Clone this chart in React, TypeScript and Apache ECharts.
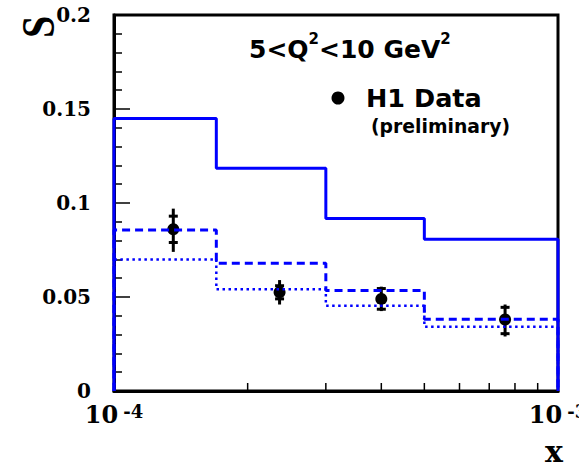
import React, { useEffect, useRef } from "react";
import * as echarts from "echarts";

// Histogram bin edges (x) and bin contents for the three curves
const binEdges = [1e-4, 1.7e-4, 3e-4, 5e-4, 1e-3];
const solidValues = [0.145, 0.1185, 0.0918, 0.0807];
const dashedValues = [0.0856, 0.0679, 0.0534, 0.0381];
const dottedValues = [0.07, 0.0541, 0.0454, 0.0342];

// H1 data points
const dataX = [1.36e-4, 2.36e-4, 4.0e-4, 7.6e-4];
const dataY = [0.086, 0.0525, 0.049, 0.038];
const statLow = [0.079, 0.049, 0.0435, 0.0305];
const statHigh = [0.093, 0.056, 0.0545, 0.0445];
const totLow = [0.074, 0.046, 0.0425, 0.029];
const totHigh = [0.097, 0.059, 0.0555, 0.046];

// axis decorations
const xMinorTicks = [2e-4, 3e-4, 4e-4, 5e-4, 6e-4, 7e-4, 8e-4, 9e-4];
const yMin = 0;
const yMax = 0.2;
const yInterval = 0.05;

const BLUE = "#0000ff";

function histogram(values: number[]): number[][] {
  const pts: number[][] = [[binEdges[0], 0]];
  values.forEach((v, i) => {
    pts.push([binEdges[i], v]);
    pts.push([binEdges[i + 1], v]);
  });
  pts.push([binEdges[binEdges.length - 1], 0]);
  return pts;
}

export default function App() {
  const ref = useRef<HTMLDivElement>(null);
  useEffect(() => {
    if (!ref.current) return;
    const chart = echarts.init(ref.current, null, { renderer: "svg", width: 579, height: 467 });
    const serifBold = { fontFamily: "DejaVu Serif", fontWeight: "bold" as const, color: "#000" };
    const sansBold = { fontFamily: "DejaVu Sans", fontWeight: "bold" as const, fill: "#000" };

    const option: any = {
      animation: false,
      backgroundColor: "#fff",
      grid: {
        left: 114,
        right: 21,
        top: 15,
        bottom: 76,
        show: true,
        borderColor: "#000",
        borderWidth: 3,
        containLabel: false,
        outerBoundsMode: "none",
      },
      xAxis: {
        type: "log",
        logBase: 10,
        min: binEdges[0],
        max: binEdges[binEdges.length - 1],
        axisLine: { show: true, lineStyle: { color: "#000", width: 3 } },
        axisTick: { show: false },
        splitLine: { show: false },
        axisLabel: {
          margin: 11,
          hideOverlap: false,
          formatter: (v: number) => `{b|10}{s|${Math.round(Math.log10(v))}}`,
          rich: {
            b: { ...serifBold, fontSize: 24, lineHeight: 24, verticalAlign: "bottom" },
            s: { ...serifBold, fontSize: 18, lineHeight: 18, verticalAlign: "top", padding: [0, 0, 0, 5] },
          },
          lineHeight: 34,
        },
      },
      yAxis: {
        type: "value",
        min: yMin,
        max: yMax,
        interval: yInterval,
        axisLine: { show: true, lineStyle: { color: "#000", width: 3 } },
        axisTick: { show: true, inside: true, length: 16, lineStyle: { color: "#000", width: 1.5 } },
        minorTick: { show: true, splitNumber: 5, length: 8, lineStyle: { color: "#000", width: 1.5 } },
        splitLine: { show: false },
        minorSplitLine: { show: false },
        axisLabel: { ...serifBold, fontSize: 20, margin: 23 },
      },
      graphic: [
        {
          type: "text",
          x: 39,
          y: 27,
          rotation: Math.PI / 2,
          scaleY: 1.15,
          style: {
            text: "S",
            fontFamily: "Liberation Serif",
            fontWeight: "bold",
            fontSize: 40,
            fill: "#000",
            align: "center",
            verticalAlign: "middle",
          },
        },
        {
          type: "text",
          x: 563,
          y: 466,
          style: {
            text: "x",
            fontFamily: "DejaVu Serif",
            fontWeight: "bold",
            fontSize: 30,
            fill: "#000",
            align: "right",
            verticalAlign: "bottom",
          },
        },
        {
          type: "text",
          x: 249,
          y: 31,
          style: {
            text: "{a|5<Q}{s|2}{a|<10 GeV}{s|2}",
            rich: {
              a: { ...sansBold, fontSize: 25, lineHeight: 31, verticalAlign: "bottom" },
              s: { ...sansBold, fontSize: 15, lineHeight: 15, verticalAlign: "top" },
            },
          },
        },
        { type: "circle", shape: { cx: 338, cy: 98, r: 6.5 }, style: { fill: "#000" } },
        {
          type: "text",
          x: 366,
          y: 98,
          style: { text: "H1 Data", ...sansBold, fontSize: 25.5, verticalAlign: "middle" },
        },
        {
          type: "text",
          x: 371,
          y: 126,
          style: { text: "(preliminary)", ...sansBold, fontSize: 18.8, verticalAlign: "middle" },
        },
      ],
      series: [
        {
          type: "custom",
          name: "xMinorTicks",
          data: xMinorTicks.map((v) => [v, 0]),
          silent: true,
          renderItem: (params: any, api: any) => {
            const p = api.coord([api.value(0), api.value(1)]);
            return {
              type: "line",
              shape: { x1: p[0], y1: p[1], x2: p[0], y2: p[1] - 8 },
              style: { stroke: "#000", lineWidth: 1.5 },
            };
          },
        },
        {
          type: "custom",
          name: "H1 Data",
          data: dataX.map((x, i) => [x, dataY[i], totLow[i], totHigh[i], statLow[i], statHigh[i]]),
          encode: { x: 0, y: [1, 2, 3] },
          renderItem: (params: any, api: any) => {
            const x = api.value(0);
            const c = api.coord([x, api.value(1)]);
            const tl = api.coord([x, api.value(2)]);
            const th = api.coord([x, api.value(3)]);
            const sl = api.coord([x, api.value(4)]);
            const sh = api.coord([x, api.value(5)]);
            const cap = 4.5;
            const st = { stroke: "#000", lineWidth: 3 };
            return {
              type: "group",
              children: [
                { type: "line", shape: { x1: c[0], y1: tl[1], x2: c[0], y2: th[1] }, style: st },
                { type: "line", shape: { x1: c[0] - cap, y1: sl[1], x2: c[0] + cap, y2: sl[1] }, style: st },
                { type: "line", shape: { x1: c[0] - cap, y1: sh[1], x2: c[0] + cap, y2: sh[1] }, style: st },
                { type: "circle", shape: { cx: c[0], cy: c[1], r: 6 }, style: { fill: "#000" } },
              ],
            };
          },
        },
        {
          type: "line",
          name: "solid",
          data: histogram(solidValues),
          showSymbol: false,
          lineStyle: { color: BLUE, width: 3, type: "solid" },
        },
        {
          type: "line",
          name: "dashed",
          data: histogram(dashedValues),
          showSymbol: false,
          lineStyle: { color: BLUE, width: 3, type: [8, 5] },
        },
        {
          type: "line",
          name: "dotted",
          data: histogram(dottedValues),
          showSymbol: false,
          lineStyle: { color: BLUE, width: 2.5, type: [2.5, 3.5] },
        },
      ],
    };
    chart.setOption(option);
    return () => chart.dispose();
  }, []);
  return <div ref={ref} style={{ position: "absolute", left: 0, top: 0, width: 579, height: 467 }} />;
}
